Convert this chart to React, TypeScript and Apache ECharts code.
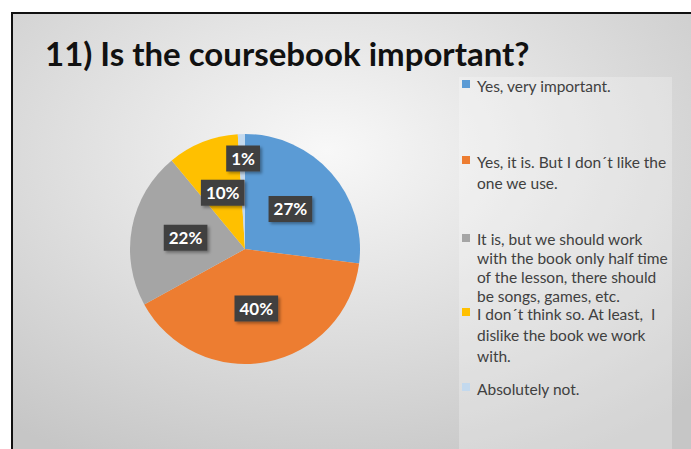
import React, { useEffect, useRef } from "react";
import * as echarts from "echarts";

const categories = [
  "Yes, very important.",
  "Yes, it is. But I don´t like the one we use.",
  "It is, but we should work with the book only half time of the lesson, there should be songs, games, etc.",
  "I don´t think so. At least,  I dislike the book we work with.",
  "Absolutely not.",
];
const legendLines = [
  ["Yes, very important."],
  ["Yes, it is. But I don´t like the", "one we use."],
  ["It is, but we should work", "with the book only half time", "of the lesson, there should", "be songs, games, etc."],
  ["I don´t think so. At least,  I", "dislike the book we work", "with."],
  ["Absolutely not."],
];
const values = [27, 40, 22, 10, 1];
const colors = ["#5b9bd5", "#ed7d31", "#a5a5a5", "#ffc000", "#c3d9ee"];
const title = "11) Is the coursebook important?";

export default function App() {
  const ref = useRef<HTMLDivElement>(null);
  useEffect(() => {
    if (!ref.current) return;
    const chart = echarts.init(ref.current, null, { renderer: "svg" });
    const legendTops = [75, 151, 229, 303, 378];
    const lineHeights = [21, 21, 19, 21, 21];
    const legendGraphics: any[] = [];
    categories.forEach((c, i) => {
      legendGraphics.push({
        type: "rect",
        shape: { x: 462, y: legendTops[i] + 5, width: 8, height: 8 },
        style: { fill: colors[i] },
        z: 10,
      });
      legendGraphics.push({
        type: "text",
        x: 477,
        y: legendTops[i],
        style: {
          text: legendLines[i].join("\n"),
          fill: "#404040",
          font: "15.5px Lato",
          lineHeight: lineHeights[i],
        },
        z: 10,
      });
    });
    chart.setOption({
      animation: false,
      backgroundColor: "#ffffff",
      title: {
        text: title,
        left: 40,
        top: 31,
        textStyle: { fontFamily: "Lato", fontWeight: "bold", fontSize: 33, color: "#111111" },
      },
      graphic: [
        {
          type: "rect",
          shape: { x: 12, y: 13, width: 700, height: 460 },
          style: {
            fill: new echarts.graphic.RadialGradient(0.45, 0.3, 0.75, [
              { offset: 0, color: "#f8f8f8" },
              { offset: 1, color: "#c6c6c6" },
            ]),
            stroke: "#111111",
            lineWidth: 2,
          },
          z: -10,
        },
        {
          type: "rect",
          shape: { x: 459, y: 77, width: 213, height: 380 },
          style: { fill: "rgba(255,255,255,0.25)" },
          z: -5,
        },
        ...legendGraphics,
      ],
      series: [
        {
          type: "pie",
          center: [245, 249],
          radius: 115,
          startAngle: 90,
          clockwise: true,
          data: categories.map((c, i) => ({ name: c, value: values[i], itemStyle: { color: colors[i] } })),
          label: {
            show: true,
            position: "inside",
            formatter: "{c}%",
            color: "#ffffff",
            fontFamily: "Lato",
            fontWeight: "bold",
            fontSize: 17,
            backgroundColor: "#404040",
            padding: [5, 5, 4, 5],
            shadowColor: "rgba(0,0,0,0.35)",
            shadowBlur: 3,
            shadowOffsetX: 2,
            shadowOffsetY: 2,
          },
          labelLayout: (params: any) => (params.dataIndex === 4 ? { dy: -30 } : {}),
          emphasis: { disabled: true },
        },
      ],
    });
    return () => chart.dispose();
  }, []);
  return (
    <div
      ref={ref}
      style={{ position: "absolute", left: 0, top: 0, width: 691, height: 449 }}
    />
  );
}
